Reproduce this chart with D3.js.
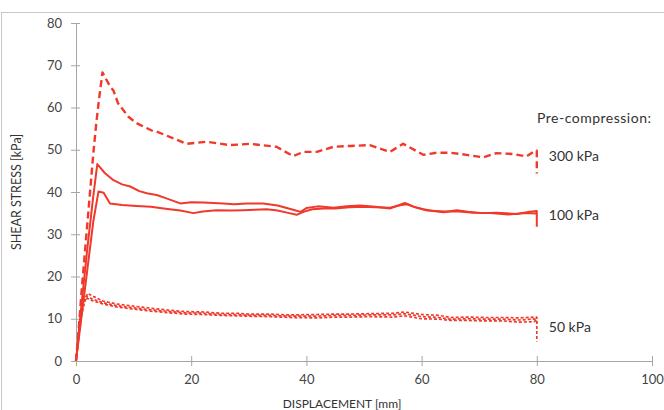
<!DOCTYPE html>
<html>
<head>
<meta charset="utf-8">
<script src="https://cdn.jsdelivr.net/npm/d3@7"></script>
<style>
  html, body { margin: 0; padding: 0; background: #fff; }
  svg { display: block; }
  text { font-family: Lato, "Open Sans", sans-serif; }
</style>
</head>
<body>
<svg id="chart" width="664" height="410"></svg>
<script>
// ---- data (displacement [mm], shear stress [kPa]) ----
const xTicks = [0, 20, 40, 60, 80, 100];
const yTicks = [0, 10, 20, 30, 40, 50, 60, 70, 80];

const curve300 = [[0,0],[0.5,8],[1,17],[1.5,25],[2,33],[2.5,41],[3,49],[3.5,56],[4,62],[4.6,68.3],[5.9,65],[6.5,64],[7.3,61],[8.2,59.4],[9.1,57.8],[10.5,56.3],[11.1,55.9],[13.4,54.4],[14,54.3],[16.9,52.7],[19.2,51.4],[22.7,51.9],[26.7,51.1],[30.2,51.4],[34.8,50.7],[37.7,48.5],[39.5,49.5],[41.8,49.5],[44.7,50.7],[47.6,50.9],[51,51.1],[54.5,49.5],[56.8,51.4],[60.3,48.8],[62.6,49.3],[64.9,49.3],[67.8,48.8],[70.7,48.2],[73,49.2],[75.9,49],[78.2,48.4],[79.4,49.5],[80,49.8],[80,44.4]];

const curve100a = [[0,0],[1,14],[2,27],[3,39],[3.7,46.6],[5,44.5],[6.5,42.8],[8,41.8],[9.4,41.3],[11,40.2],[12.3,39.7],[14,39.3],[15.7,38.5],[18.1,37.3],[20,37.6],[22.1,37.5],[25.6,37.3],[27.5,37.1],[29.6,37.3],[32.5,37.3],[35,36.8],[37.7,35.8],[39,35.3],[40,36.2],[42,36.6],[44.7,36.3],[47,36.6],[49.3,36.8],[52,36.5],[54.5,36.1],[57.1,37.4],[58.5,36.6],[60.3,35.9],[62,35.5],[63.8,35.2],[66.1,35.7],[68,35.3],[70.7,35],[73,35.1],[76.5,34.8],[78.8,35.3],[80,35.5],[80,31.8]];

const curve100b = [[0,0],[1,11],[2,22],[3,33],[3.9,40.1],[4.8,39.8],[5.9,37.3],[8,36.9],[10.5,36.7],[13,36.5],[15.2,36.1],[18.1,35.6],[20.4,35],[22,35.4],[24.4,35.7],[27,35.6],[29,35.7],[31,35.8],[33.1,35.9],[35,35.6],[37,35],[38.3,34.6],[39.5,35.3],[41,35.9],[43,36.1],[45,36.1],[47.5,36.4],[50,36.5],[52,36.4],[54.5,36.3],[56.5,36.9],[57.5,37.1],[59,36.3],[61,35.6],[64,35.4],[66.5,35.4],[69,35.1],[72,35],[75,34.7],[78,35],[80,34.9]];

const curve50a = [[0,0],[0.5,6],[1,11],[1.5,14],[2,16],[3,15.3],[4.7,14.2],[7,13.5],[10.5,12.9],[13,12.5],[16.3,12],[19,11.7],[22.1,11.6],[25,11.3],[27.9,11.3],[30,11.1],[33.7,11.1],[37,10.9],[41.8,11],[45,11.1],[47.6,11.1],[51,11.2],[55,11.3],[57,11.6],[60,11],[63,10.8],[65,10.3],[68,10.4],[71,10.3],[74,10.3],[77,10.2],[80,10.4],[80,9]];
const curve50b = [[0,0],[0.4,5],[0.8,10],[1.2,13.5],[1.7,15.3],[3,14.6],[4.7,13.8],[7,13.1],[10.5,12.5],[13,12.1],[16.3,11.7],[19,11.4],[22.1,11.3],[25,11],[27.9,11],[30,10.8],[33.7,10.8],[37,10.6],[41.8,10.6],[45,10.8],[47.6,10.8],[51,10.9],[55,10.9],[57,11.2],[60,10.5],[63,10.3],[65,9.9],[68,10],[71,9.9],[74,9.9],[77,9.7],[80,10]];
const curve50c = [[0,0],[0.4,6],[0.8,11],[1.2,14.5],[2,14.8],[3,14.2],[4.7,13.5],[7,12.8],[10.5,12.2],[13,11.8],[16.3,11.4],[19,11.1],[22.1,11],[25,10.8],[27.9,10.7],[30,10.6],[33.7,10.5],[37,10.3],[41.8,10.2],[45,10.4],[47.6,10.4],[51,10.5],[55,10.4],[57,10.7],[60,10],[63,9.9],[65,9.6],[68,9.6],[71,9.5],[74,9.5],[77,9.2],[79.5,9.3],[80,9.8],[80,4.6]];

const seriesLabels = ["300 kPa", "100 kPa", "50 kPa"];
const labelLevels = [49.5, 35.5, 9];

// ---- drawing ----
const svg = d3.select("#chart");
const red = "#f0392b";

const x = d3.scaleLinear().domain([0, 100]).range([76, 652]);
const y = d3.scaleLinear().domain([0, 80]).range([361, 23]);

// outer frame
svg.append("rect").attr("x", 1.5).attr("y", 12.5).attr("width", 700).attr("height", 500)
  .attr("fill", "none").attr("stroke", "#c8c8c8").attr("stroke-width", 1);

// y axis
const yAxis = svg.append("g").attr("transform", `translate(${x(0)},0)`)
  .call(d3.axisLeft(y).tickValues(yTicks).tickSize(5).tickPadding(9));
yAxis.select(".domain").attr("stroke", "#a6a6a6");
yAxis.selectAll(".tick line").attr("stroke", "#a6a6a6").attr("x2", 4).attr("x1", -5);
yAxis.selectAll(".tick text").attr("fill", "#444").attr("font-size", 13)
  .attr("font-family", "Lato, sans-serif");

// x axis
const xAxis = svg.append("g").attr("transform", `translate(0,${y(0)})`)
  .call(d3.axisBottom(x).tickValues(xTicks).tickSize(5).tickPadding(9));
xAxis.select(".domain").attr("stroke", "#a6a6a6");
xAxis.selectAll(".tick line").attr("stroke", "#a6a6a6").attr("y1", -5).attr("y2", 5);
xAxis.selectAll(".tick text").attr("fill", "#444").attr("font-size", 13)
  .attr("font-family", "Lato, sans-serif");

// axis titles
svg.append("text").attr("transform", `translate(21,${(y(0)+y(80))/2}) rotate(-90)`)
  .attr("text-anchor", "middle").attr("fill", "#333").attr("font-size", 12.5)
  .text("SHEAR STRESS [kPa]");
svg.append("text").attr("x", (x(0)+x(100))/2 - 22).attr("y", 408)
  .attr("text-anchor", "middle").attr("fill", "#333").attr("font-size", 12)
  .text("DISPLACEMENT [mm]");

// curves
const line = d3.line().x(d => x(d[0])).y(d => y(d[1]));
const curves = [
  {d: curve300, w: 2.4, dash: "7,4"},
  {d: curve100a, w: 2, dash: null},
  {d: curve100b, w: 2, dash: null},
  {d: curve50a, w: 1.7, dash: "3,2"},
  {d: curve50b, w: 1.7, dash: "3,2"},
  {d: curve50c, w: 1.7, dash: "3,2"}
];
svg.append("g").selectAll("path").data(curves).join("path")
  .attr("d", c => line(c.d))
  .attr("fill", "none").attr("stroke", red).attr("stroke-width", c => c.w)
  .attr("stroke-linejoin", "round")
  .attr("stroke-dasharray", c => c.dash);

// annotations
svg.append("text").attr("x", 537).attr("y", 123).attr("fill", "#333").attr("font-size", 14)
  .attr("letter-spacing", 0.5)
  .text("Pre-compression:");
svg.append("g").selectAll("text").data(seriesLabels).join("text")
  .attr("x", x(80) + 12).attr("y", (d, i) => y(labelLevels[i]) + 9)
  .attr("fill", "#333").attr("font-size", 14).text(d => d);
</script>
</body>
</html>
